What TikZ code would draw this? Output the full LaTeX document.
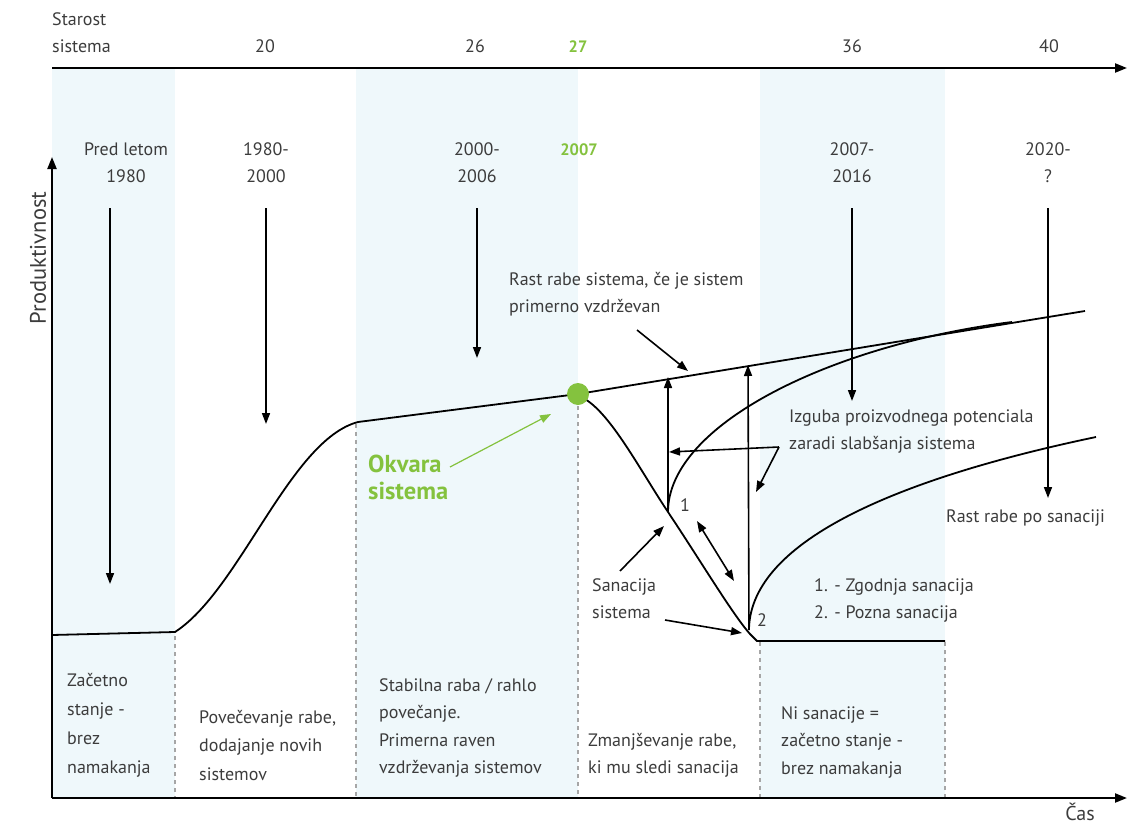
\documentclass[tikz,border=0pt]{standalone}
\usepackage{fontspec}
\setmainfont{PT Sans}
\usetikzlibrary{arrows.meta}
\definecolor{grn}{RGB}{132,194,62}
\definecolor{band}{RGB}{239,248,251}
\definecolor{txt}{RGB}{60,60,60}
\begin{document}
\begin{tikzpicture}[x=1pt,y=-1pt,
  lbl/.style={inner sep=0pt, text=txt, font=\fontsize{18}{27.5}\selectfont},
  lft/.style={lbl, align=left, anchor=north west},
  ctr/.style={lbl, align=center, anchor=north},
  axis/.style={line width=2.2pt, -{Triangle[length=12pt,width=9pt]}},
  arr/.style={line width=1.6pt, -{Triangle[length=11pt,width=8pt]}},
  curve/.style={line width=1.8pt},
  dsh/.style={gray!70, line width=1.2pt, dash pattern=on 4pt off 4pt}]
\useasboundingbox (0,0) rectangle (1138,827);
% bands
\fill[band] (52,68) rectangle (175,798);
\fill[band] (356,68) rectangle (578,798);
\fill[band] (760,68) rectangle (945,798);
% dashed separators
\draw[dsh] (175,636) -- (175,798);
\draw[dsh] (356,424) -- (356,798);
\draw[dsh] (578,406) -- (578,798);
\draw[dsh] (760,642) -- (760,798);
\draw[dsh] (945,642) -- (945,798);
% axes
\coordinate (o) at (52,798);
\coordinate (xt) at (1127,798);
\coordinate (yt) at (52,157);
\coordinate (t0) at (52,68);
\coordinate (t1) at (1127,68);
\draw[axis] (t0) -- (t1);
\draw[axis] (o) -- (yt);
\draw[axis] (o) -- (xt);
\node[lbl, rotate=90, font=\fontsize{22.5}{24}\selectfont] (ylab) at (38,258) {Produktivnost};
\node[lbl, font=\fontsize{20}{22}\selectfont] (xlab) at (1080,812) {Čas};
% top labels
\node[lft] (star) at (52,6) {\strut Starost\\sistema};
\node[ctr] (n20) at (265,33) {\strut 20};
\node[ctr] (n26) at (475,33) {\strut 26};
\node[ctr, text=grn, font=\fontsize{16.5}{27.5}\selectfont\bfseries] (n27) at (578,33) {\strut 27};
\node[ctr] (n36) at (852,33) {\strut 36};
\node[ctr] (n40) at (1049,33) {\strut 40};
% year labels
\node[ctr] (y1) at (126,136) {\strut Pred letom\\1980};
\node[ctr] (y2) at (266,136) {\strut 1980-\\2000};
\node[ctr] (y3) at (477,136) {\strut 2000-\\2006};
\node[ctr, text=grn, font=\fontsize{16.5}{27.5}\selectfont\bfseries] (y4) at (579,136) {\strut 2007};
\node[ctr] (y5) at (852,136) {\strut 2007-\\2016};
\node[ctr] (y6) at (1048,136) {\strut 2020-\\?};
% down arrows
\coordinate (d1a) at (110,208); \coordinate (d1b) at (110,584);
\coordinate (d2a) at (266,208); \coordinate (d2b) at (266,424);
\coordinate (d3a) at (477,208); \coordinate (d3b) at (477,358);
\coordinate (d5a) at (852,208); \coordinate (d5b) at (852,401);
\coordinate (d6a) at (1048,208); \coordinate (d6b) at (1048,498);
\draw[arr] (d1a) -- (d1b);
\draw[arr] (d2a) -- (d2b);
\draw[arr] (d3a) -- (d3b);
\draw[arr] (d5a) -- (d5b);
\draw[arr] (d6a) -- (d6b);
% main curve
\coordinate (c0) at (52,635);
\coordinate (c1) at (175,632);
\coordinate (c2) at (358,422);
\coordinate (fail) at (578,394);
\coordinate (c3) at (1085,311);
\draw[curve] (c0) -- (c1) .. controls (240,590) and (290,440) .. (c2) -- (fail) -- (c3);
% decline
\coordinate (p1) at (668,512);
\coordinate (p2) at (750,634);
\coordinate (c4) at (945,641);
\draw[curve] (583,398) .. controls (610,412) and (640,470) .. (p1) .. controls (700,560) and (733,615) .. (p2) -- (757,641) -- (c4);
% recoveries
\coordinate (r1) at (1012,322);
\coordinate (r2) at (1096,437);
\draw[curve] (p1) .. controls (668,425) and (830,345) .. (r1);
\draw[curve] (749,628) .. controls (752,540) and (900,478) .. (r2);
% vertical arrows
\coordinate (v1) at (668,377);
\coordinate (v2) at (748,365);
\draw[arr] (p1) -- (v1);
\draw[arr] (749,630) -- (v2);
% failure dot
\node[circle, fill=grn, minimum size=22pt, inner sep=0pt] (dot) at (fail) {};
% labels in plot
\node[lft] (rast) at (509,266) {\strut Rast rabe sistema, če je sistem\\primerno vzdrževan};
\coordinate (ra) at (637,330); \coordinate (rb) at (688,371);
\draw[arr] (ra) -- (rb);
\node[lft, text=grn, font=\fontsize{24.5}{27}\selectfont\bfseries] (okv) at (368,453) {\strut Okvara\\sistema};
\coordinate (oa) at (450,467); \coordinate (ob) at (551,414);
\draw[arr, grn, line width=1.2pt] (oa) -- (ob);
\node[lft] (izg) at (789,403) {\strut Izguba proizvodnega potenciala\\zaradi slabšanja sistema};
\coordinate (iv) at (779,447);
\coordinate (i1) at (669,452);
\coordinate (i2) at (756,492);
\draw[arr] (iv) -- (i1);
\draw[arr] (iv) -- (i2);
\node[lbl] (one) at (685,505) {1};
\node[lbl] (two) at (762,620) {2};
\coordinate (da) at (697,521); \coordinate (db) at (734,581);
\draw[line width=1.6pt, {Triangle[length=11pt,width=8pt]}-{Triangle[length=11pt,width=8pt]}] (da) -- (db);
\node[lft] (san) at (592,572) {\strut Sanacija\\sistema};
\coordinate (sa1) at (620,571); \coordinate (sb1) at (664,526);
\coordinate (sa2) at (665,620); \coordinate (sb2) at (742,633);
\draw[arr] (sa1) -- (sb1);
\draw[arr] (sa2) -- (sb2);
\node[lft] (leg) at (814,572) {\strut 1. - Zgodnja sanacija\\2. - Pozna sanacija};
\node[lft] (rps) at (946,503) {\strut Rast rabe po sanaciji};
% bottom texts
\node[lft, font=\fontsize{18}{29}\selectfont] (b1) at (67,666) {\strut Začetno\\stanje -\\brez\\namakanja};
\node[lft, font=\fontsize{18}{28.5}\selectfont] (b2) at (199,703) {\strut Povečevanje rabe,\\dodajanje novih\\sistemov};
\node[lft] (b3) at (379,672) {\strut Stabilna raba / rahlo\\povečanje.\\Primerna raven\\vzdrževanja sistemov};
\node[lft] (b4) at (588,727) {\strut Zmanjševanje rabe,\\ki mu sledi sanacija};
\node[lft] (b5) at (781,700) {\strut Ni sanacije =\\začetno stanje -\\brez namakanja};
\end{tikzpicture}
\end{document}
